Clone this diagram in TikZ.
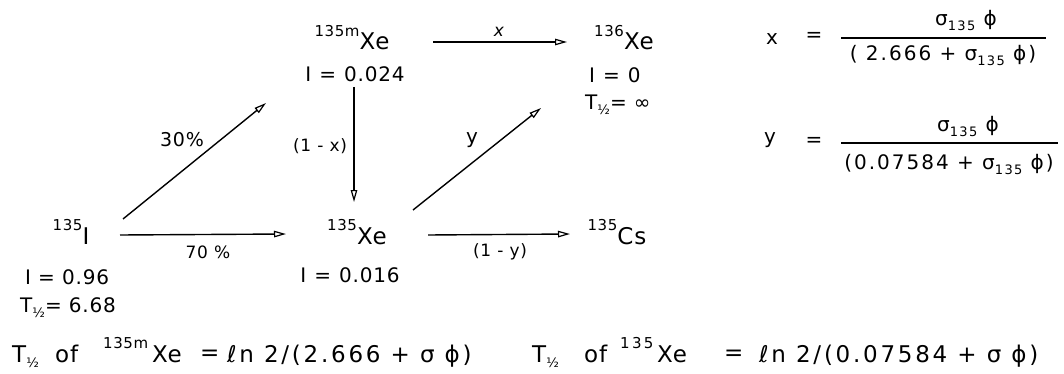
\documentclass[tikz,border=0pt]{standalone}
\usepackage{fontspec}
\setmainfont{DejaVu Sans}[LetterSpace=4]
\usetikzlibrary{arrows.meta}
\newcommand\nsup[1]{\raisebox{0.6em}{\fontsize{15}{15}\selectfont #1}}
\newcommand\nsub[1]{\raisebox{-0.25em}{\fontsize{13}{13}\selectfont #1}}
\newcommand\hlf{\nsub{½}}
\begin{document}
\begin{tikzpicture}[x=1pt,y=-1pt,
  nuc/.style={anchor=base, inner sep=0pt, font=\fontsize{23}{23}\selectfont},
  info/.style={anchor=base, inner sep=0pt, font=\fontsize{20}{20}\selectfont},
  lab/.style={inner sep=0pt, font=\fontsize{17}{17}\selectfont},
  eqt/.style={inner sep=0pt, font=\fontsize{20}{20}\selectfont\addfontfeature{LetterSpace=10}},
  btm/.style={anchor=base west, inner sep=0pt, font=\fontsize{23}{23}\selectfont},
  wide/.style={font=\fontsize{23}{23}\selectfont\addfontfeature{LetterSpace=12}},
  arr/.style={line width=1.4pt, -{Triangle[open,length=12pt,width=6.5pt,line width=1.2pt]}},
  fracline/.style={line width=1.3pt},
]
\useasboundingbox (0,0) rectangle (1064,374);

% nuclides
\node[nuc] (I135)   at (71,244)  {\nsup{135}I};
\node[nuc] (Xe135m) at (352,50)  {\nsup{135m}Xe};
\node[nuc] (Xe136)  at (624,50)  {\nsup{136}Xe};
\node[nuc] (Xe135)  at (357,244) {\nsup{135}Xe};
\node[nuc] (Cs135)  at (617,244) {\nsup{135}Cs};

% data
\node[info] (iXe135m) at (355,82) {I\hspace{0.4em}=\hspace{0.4em}0.024};
\node[info, anchor=base west] (iXe136) at (589,83) {I\hspace{0.4em}=\hspace{0.4em}0};
\node[info, anchor=base west] (tXe136) at (585,110) {T\hlf{}= ∞};
\node[info, anchor=base west] (iI135) at (25,284) {I = 0.96};
\node[info, anchor=base west] (tI135) at (20,312) {T\hlf{}= 6.68};
\node[info] (iXe135) at (350,282) {I\hspace{0.4em}=\hspace{0.4em}0.016};

% connectors
\draw[arr] ([shift={(52,-25)}]I135.base) -- ([shift={(-86,53)}]Xe135m.base);
\draw[arr] ([shift={(49,-9)}]I135.base) -- ([shift={(-71,-10)}]Xe135.base);
\draw[arr] ([shift={(81,-8)}]Xe135m.base) -- ([shift={(-57,-8)}]Xe136.base);
\draw[arr] ([shift={(2,37)}]Xe135m.base) -- ([shift={(-3,-42)}]Xe135.base);
\draw[arr] ([shift={(56,-34)}]Xe135.base) -- ([shift={(-83,58)}]Xe136.base);
\draw[arr] ([shift={(71,-9)}]Xe135.base) -- ([shift={(-47,-10)}]Cs135.base);

% connector labels
\node[lab, font=\fontsize{19}{19}\selectfont] (l30) at (182,140) {30\%};
\node[lab] (l70) at (208,252) {70 \%};
\node[lab, font=\fontsize{17}{17}\itshape] (lx) at (499,32) {x};
\node[lab] (l1x) at (320,146) {(1 - x)};
\node[lab, font=\fontsize{20}{20}\selectfont] (ly) at (472,140) {y};
\node[lab] (l1y) at (500,252) {(1 - y)};

% equations
\node[eqt] (xv) at (772,39) {x};
\node[eqt] (xeq) at (814,37) {=};
\draw[fracline] (841,38) -- (1046,38);
\node[eqt] (xnum) at (966,20) {σ\nsub{135} ϕ};
\node[eqt] (xden) at (943,55) {( 2.666 + σ\nsub{135} ϕ)};

\node[eqt] (yv) at (770,140) {y};
\node[eqt] (yeq) at (814,142) {=};
\draw[fracline] (841,143) -- (1058,143);
\node[eqt] (ynum) at (968,126) {σ\nsub{135} ϕ};
\node[eqt] (yden) at (949,164) {(0.07584 + σ\nsub{135} ϕ)};

% bottom formulas
\node[btm] (b1) at (12,362) {T\hlf};
\node[btm] (b2) at (55,362) {of};
\node[btm] (b3) at (103,362) {\nsup{135m}\,Xe};
\node[btm] (b4) at (200,360) {=};
\node[btm, wide] (b5) at (227,362) {ℓn 2/(2.666 + σ ϕ)};

\node[btm] (c1) at (532,362) {T\hlf};
\node[btm] (c2) at (584,362) {of};
\node[btm] (c3) at (620,362) {\nsup{\addfontfeature{LetterSpace=15}135}\,Xe};
\node[btm] (c4) at (724,360) {=};
\node[btm, wide] (c5) at (759,362) {ℓn 2/(0.07584 + σ ϕ)};
\end{tikzpicture}
\end{document}
